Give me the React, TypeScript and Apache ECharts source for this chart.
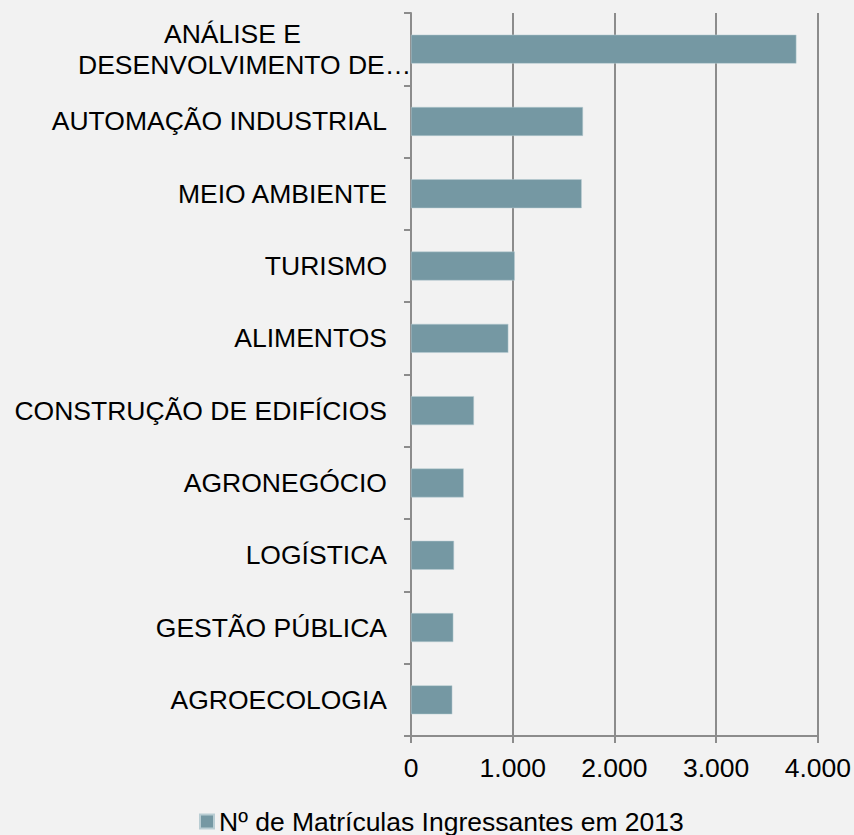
import React, { useEffect, useRef } from "react";
import * as echarts from "echarts";

const categories = [
  "ANÁLISE E DESENVOLVIMENTO DE…",
  "AUTOMAÇÃO INDUSTRIAL",
  "MEIO AMBIENTE",
  "TURISMO",
  "ALIMENTOS",
  "CONSTRUÇÃO DE EDIFÍCIOS",
  "AGRONEGÓCIO",
  "LOGÍSTICA",
  "GESTÃO PÚBLICA",
  "AGROECOLOGIA",
];
const values = [3789, 1691, 1678, 1020, 957, 619, 518, 423, 416, 406];
const seriesName = "Nº de Matrículas Ingressantes em 2013";

export default function App() {
  const ref = useRef<HTMLDivElement>(null);
  useEffect(() => {
    const chart = echarts.init(ref.current!, null, { renderer: "svg" });
    const font = "'Liberation Sans', Arial, sans-serif";
    const fs = 26.5;
    chart.setOption({
      animation: false,
      backgroundColor: "#f2f2f2",
      textStyle: { fontFamily: font },
      grid: { left: 411, right: 36, top: 13, bottom: 99, containLabel: false },
      legend: {
        top: 803,
        left: 194,
        itemWidth: 14,
        itemHeight: 14,
        icon: "rect",
        textStyle: { fontSize: fs, color: "#000", fontFamily: font },
        data: [seriesName],
      },
      xAxis: {
        type: "value",
        min: 0,
        max: 4000,
        interval: 1000,
        axisLine: { show: true, lineStyle: { color: "#8c8c8c", width: 2 } },
        axisTick: { show: true, length: 7, lineStyle: { color: "#8c8c8c", width: 2 } },
        splitLine: { show: true, lineStyle: { color: "#8c8c8c", width: 2 } },
        axisLabel: {
          fontSize: fs,
          color: "#000",
          margin: 18,
          fontFamily: font,
          formatter: (v: number) => v.toLocaleString("pt-BR"),
        },
      },
      yAxis: {
        type: "category",
        inverse: true,
        data: categories,
        axisLine: { show: true, lineStyle: { color: "#8c8c8c", width: 2 } },
        axisTick: { show: true, length: 7, lineStyle: { color: "#8c8c8c", width: 2 } },
        axisLabel: {
          fontSize: fs,
          color: "#000",
          margin: 24,
          fontFamily: font,
          formatter: (v: string) => {
            if (v.startsWith("ANÁLISE")) {
              return "{c|ANÁLISE E}\n{d|DESENVOLVIMENTO DE…}";
            }
            return v;
          },
          rich: {
            c: { fontSize: fs, color: "#000", align: "center", fontFamily: font, lineHeight: 31 },
            d: { fontSize: fs, color: "#000", align: "left", width: 309, fontFamily: font, lineHeight: 31 },
          },
        },
      },
      series: [
        {
          name: seriesName,
          type: "bar",
          data: values,
          barCategoryGap: "60%",
          itemStyle: { color: "#7598a3", borderColor: "#b9cdd3", borderWidth: 0.5 },
        },
      ],
    });
    return () => chart.dispose();
  }, []);
  return (
    <div
      ref={ref}
      style={{ position: "absolute", left: 0, top: 0, width: 854, height: 835 }}
    />
  );
}
